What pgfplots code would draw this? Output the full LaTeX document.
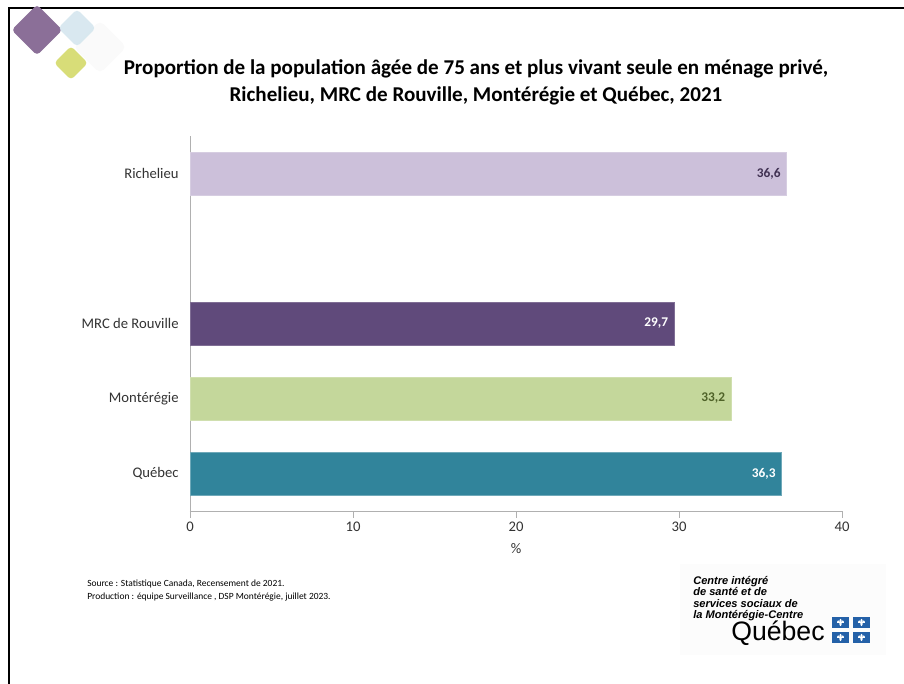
\documentclass[border=0pt]{standalone}
\usepackage{pgfplots}
\pgfplotsset{compat=1.18}
\usepackage{fontspec}
\setmainfont{Carlito}
\newfontfamily\logofont{Liberation Sans}

\definecolor{cRich}{HTML}{CCC0DA}
\definecolor{cMRC}{HTML}{604A7B}
\definecolor{cMont}{HTML}{C4D79B}
\definecolor{cQc}{HTML}{31849B}
\definecolor{tRich}{HTML}{403152}
\definecolor{tMont}{HTML}{4F6228}
\definecolor{axgray}{HTML}{B0B0B0}
\definecolor{qcblue}{HTML}{2461A8}
\definecolor{dPurple}{HTML}{8B6F98}
\definecolor{dBlue}{HTML}{D3E5EE}
\definecolor{dYellow}{HTML}{D8DD78}

\begin{document}
\begin{tikzpicture}[x=0.75pt,y=0.75pt]
\path[use as bounding box, fill=white] (0,0) rectangle (904,684);

% slide frame
\draw[line width=2.2pt] (9,-2) -- (9,676) -- (906,676);

% decorative diamonds
\node[fill=black!2, rotate=45, minimum size=28pt, rounded corners=4pt, inner sep=0pt] at (100,637) {};
\node[fill=dPurple, rotate=45, minimum size=27pt, rounded corners=3pt, inner sep=0pt] at (37,654) {};
\node[fill=dBlue, fill opacity=0.85, rotate=45, minimum size=20pt, rounded corners=3pt, inner sep=0pt] at (77,656) {};
\node[fill=dYellow, rotate=45, minimum size=18pt, rounded corners=3pt, inner sep=0pt] at (71,621) {};

% title
\node[font=\bfseries\fontsize{15.8}{20.25}\selectfont, align=center] at (476,602)
  {Proportion de la population âgée de 75 ans et plus vivant seule en ménage privé,\\
   Richelieu, MRC de Rouville, Montérégie et Québec, 2021};

\begin{axis}[
    at={(142.5pt,129.75pt)}, anchor=south west,
    scale only axis,
    width=489pt, height=281.25pt,
    xbar,
    bar width=32.25pt,
    bar shift=0pt,
    xmin=0, xmax=40,
    ymin=-0.5, ymax=4.5,
    xtick={0,10,20,30,40},
    ytick={0,1,2,4},
    yticklabels={Québec,Montérégie,MRC de Rouville,Richelieu},
    axis x line=bottom, axis y line=left,
    axis line style={draw=axgray, -},
    xtick style={draw=axgray, line width=0.6pt},
    ytick style={draw=none},
    tick align=outside,
    major tick length=5pt,
    tick label style={font=\fontsize{11}{13}\selectfont, text=black!80},
    /pgf/number format/assume math mode=true,
    xlabel={\%},
    xlabel style={font=\fontsize{11}{13}\selectfont, text=black!80, yshift=-2pt},
    nodes near coords={\pgfmathprintnumber[use comma,fixed,fixed zerofill,precision=1,assume math mode=true]{\pgfplotspointmeta}},
    nodes near coords style={
      font=\bfseries\fontsize{10}{12}\selectfont,
      anchor=east, xshift=-1pt},
    clip=false,
]
\addplot[fill=cQc, draw=cQc!70!white, nodes near coords style={text=white}]
  coordinates {(36.3,0)};
\addplot[fill=cMont, draw=cMont!80!white, nodes near coords style={text=tMont}]
  coordinates {(33.2,1)};
\addplot[fill=cMRC, draw=cMRC!80!white, nodes near coords style={text=white}]
  coordinates {(29.7,2)};
\addplot[fill=cRich, draw=cRich!80!white, nodes near coords style={text=tRich}]
  coordinates {(36.6,4)};
\end{axis}

% source
\node[anchor=north west, align=left, font=\fontsize{7.1}{9.75}\selectfont, inner sep=0pt] at (87,104)
  {Source : Statistique Canada, Recensement de 2021.\\
   Production : équipe Surveillance , DSP Montérégie, juillet 2023.};

% logo
\fill[black!1] (680,29) rectangle (886,120);
\node[anchor=north west, align=left, inner sep=0pt,
      font=\logofont\bfseries\itshape\fontsize{8.3}{8.6}\selectfont] at (693,108)
  {Centre intégré\\de santé et de\\services sociaux de\\la Montérégie-Centre};
\node[anchor=base west, inner sep=0pt, font=\logofont\fontsize{20}{21}\selectfont] at (731,43) {Québec};
% small flag panels with a white fleur-like mark
\foreach \xx in {832,853} {
  \foreach \yy in {56,41} {
    \fill[qcblue] (\xx,\yy) rectangle ++(17,11);
    \fill[white] (\xx+8.5,\yy+5.5) ellipse (1.3 and 3.6);
    \fill[white] (\xx+5,\yy+5) rectangle (\xx+12,\yy+6);
    \fill[white] (\xx+6.2,\yy+6.5) circle (1.1);
    \fill[white] (\xx+10.8,\yy+6.5) circle (1.1);
  }
}
\end{tikzpicture}
\end{document}
